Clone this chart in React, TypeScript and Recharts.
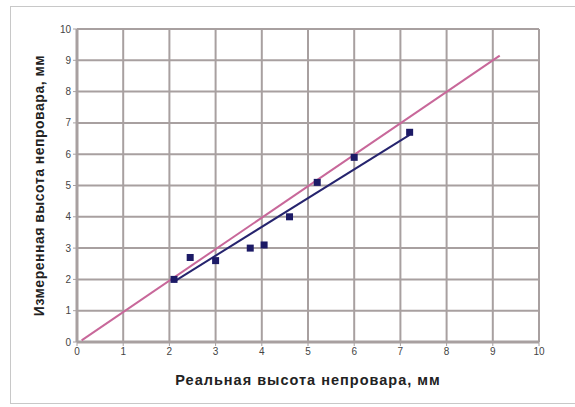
import React from "react";
import { ScatterChart, Scatter, XAxis, YAxis, CartesianGrid, Label } from "recharts";

// measured points (real height, measured height), mm
const realHeight = [2.1, 2.45, 3.0, 3.75, 4.05, 4.6, 5.2, 6.0, 7.2];
const measuredHeight = [2.0, 2.7, 2.6, 3.0, 3.1, 4.0, 5.1, 5.9, 6.7];

// trend line ends
const trendX = [2.1, 7.2];
const trendY = [1.93, 6.62];

// ideal line y = x
const idealX = [0.1, 9.15];
const idealY = [0.05, 9.15];

const ticks = [0, 1, 2, 3, 4, 5, 6, 7, 8, 9, 10];

const zip = (xs: number[], ys: number[]) => xs.map((x, i) => ({ x, y: ys[i] }));

const points = zip(realHeight, measuredHeight);
const trend = zip(trendX, trendY);
const ideal = zip(idealX, idealY);

const font = "'Liberation Sans', Arial, sans-serif";

const SquareDot = (props: any) => {
  const { cx, cy } = props;
  if (cx == null || cy == null) return null;
  return <rect x={cx - 3.5} y={cy - 3.5} width={7} height={7} fill="#1c1a66" />;
};

export default function App() {
  return (
    <div style={{ position: "fixed", left: 0, top: 0, width: 575, height: 407, background: "#fff", fontFamily: font }}>
      <div
        style={{
          position: "absolute",
          left: 10,
          top: 6,
          width: 570,
          height: 398,
          border: "1.5px solid #c8c8c8",
          boxSizing: "border-box",
        }}
      />
      <ScatterChart width={575} height={407} margin={{ top: 29, right: 36, bottom: 25, left: 37 }}>
        <CartesianGrid stroke="#a8a0a0" strokeWidth={2} fill="#fff" />
        <XAxis
          type="number"
          dataKey="x"
          domain={[0, 10]}
          ticks={ticks}
          height={40}
          axisLine={{ stroke: "#a8a0a0", strokeWidth: 3 }}
          tickLine={{ stroke: "#a8a0a0" }}
          tickSize={4}
          tick={{ fill: "#444", fontSize: 10, fontFamily: font }}
          allowDataOverflow
        >
          <Label
            value="Реальная высота непровара, мм"
            position="insideBottom"
            offset={-3}
            style={{ fill: "#222", fontSize: 14.5, fontWeight: "bold", fontFamily: font, letterSpacing: 1 }}
          />
        </XAxis>
        <YAxis
          type="number"
          dataKey="y"
          domain={[0, 10]}
          ticks={ticks}
          width={40}
          axisLine={{ stroke: "#a8a0a0", strokeWidth: 3 }}
          tickLine={{ stroke: "#a8a0a0" }}
          tickSize={4}
          tick={{ fill: "#444", fontSize: 10, fontFamily: font }}
          allowDataOverflow
        >
          <Label
            value="Измеренная высота непровара, мм"
            angle={-90}
            position="insideLeft"
            offset={2}
            style={{ fill: "#222", fontSize: 14, fontWeight: "bold", fontFamily: font, textAnchor: "middle", letterSpacing: 0.5 }}
          />
        </YAxis>
        <Scatter data={ideal} line={{ stroke: "#c8689a", strokeWidth: 2 }} shape={() => null} isAnimationActive={false} />
        <Scatter data={trend} line={{ stroke: "#26246e", strokeWidth: 2 }} shape={() => null} isAnimationActive={false} />
        <Scatter data={points} shape={SquareDot} isAnimationActive={false} />
      </ScatterChart>
    </div>
  );
}
